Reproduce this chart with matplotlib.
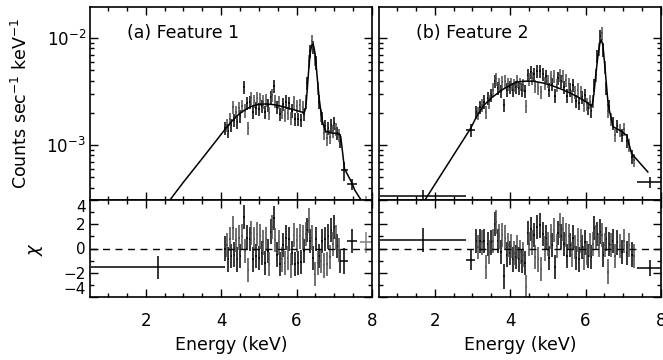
import matplotlib
matplotlib.use("Agg")
import matplotlib.pyplot as plt
from matplotlib.ticker import MultipleLocator, LogLocator, NullFormatter
import numpy as np

plt.rcParams['font.family'] = ['DejaVu Sans']
plt.rcParams['font.size'] = 12

# ---- panel (a) Feature 1 : counts in 1e-3 counts/s/keV ----
energy_a = [4.10, 4.15, 4.19, 4.23, 4.27, 4.31, 4.35, 4.39, 4.43, 4.47,
            4.51, 4.55, 4.60, 4.64, 4.68, 4.72, 4.76, 4.80, 4.84, 4.88,
            4.92, 4.96, 5.00, 5.04, 5.08, 5.12, 5.16, 5.20, 5.24, 5.28,
            5.32, 5.36, 5.40, 5.44, 5.48, 5.52, 5.56, 5.60, 5.64, 5.68,
            5.72, 5.76, 5.80, 5.84, 5.88, 5.92, 5.96, 6.00, 6.04, 6.08,
            6.12, 6.16, 6.20, 6.24, 6.28, 6.32, 6.36, 6.40, 6.44, 6.48,
            6.52, 6.56, 6.60, 6.64, 6.68, 6.72, 6.76, 6.80, 6.84, 6.88,
            6.92, 6.96, 7.00, 7.04, 7.08, 7.12, 7.16]
counts_a = [1.45, 1.55, 1.35, 1.75, 1.55, 2.25, 1.70, 2.05, 1.65, 2.20,
            1.85, 2.30, 3.45, 2.10, 2.45, 1.45, 2.50, 2.75, 2.05, 2.60,
            2.20, 2.75, 2.15, 2.70, 2.30, 2.55, 2.05, 2.65, 2.35, 2.00,
            2.80, 2.95, 3.55, 2.60, 2.25, 2.50, 1.95, 2.05, 2.40, 1.90,
            2.55, 2.00, 2.45, 1.80, 2.10, 2.50, 1.75, 2.30, 1.75, 2.35,
            1.70, 2.25, 1.95, 2.55, 3.80, 6.10, 7.60, 9.30, 8.20, 6.40,
            5.90, 3.40, 2.55, 1.90, 1.80, 1.30, 1.50, 1.15, 1.45, 1.20,
            1.55, 1.35, 1.60, 1.40, 1.30, 1.25, 1.10]
resid_a = [0.0, 0.3, -0.9, 0.8, -0.6, 1.7, -0.5, 0.7, -0.9, 0.9,
           -0.6, 1.0, 2.6, -0.2, 0.9, -1.8, 0.8, 1.3, -0.9, 0.8,
           -0.6, 1.2, -0.8, 1.0, -0.4, 0.5, -1.2, 0.8, -0.2, -1.3,
           1.4, 1.8, 2.5, 0.7, -0.5, 0.5, -1.3, -0.9, 0.3, -1.2,
           0.9, -0.8, 0.8, -1.4, -0.4, 1.1, -1.3, 0.7, -1.2, 1.0,
           -1.1, 0.9, -0.2, 1.2, 1.5, 2.3, 0.6, 0.9, -0.8, -2.1,
           0.8, -1.2, -0.6, -1.0, 0.6, -1.4, 0.8, -1.3, 1.0, -0.7,
           1.5, 0.4, 1.8, 0.9, 0.2, -0.1, -1.0]
wide_x_a = [2.32, 7.27, 7.47, 7.84]
wide_xerr_a = [1.78, 0.09, 0.12, 0.17]
wide_counts_a = [0.12, 0.58, 0.43, 0.29]
wide_cerr_a = [0.03, 0.12, 0.05, 0.04]
wide_resid_a = [-1.56, -1.04, 0.64, 0.50]
wide_rerr_a = [0.95, 1.05, 1.0, 0.9]
model_x_a = [2.3, 2.64, 3.0, 3.5, 4.0, 4.2, 4.4, 4.6, 4.8, 5.0, 5.2, 5.4, 5.6,
             5.8, 6.0, 6.2, 6.24, 6.28, 6.32, 6.36, 6.40, 6.44, 6.48, 6.52,
             6.56, 6.60, 6.64, 6.68, 6.72, 6.77, 6.9, 7.13, 7.17, 7.27, 7.47,
             7.54, 7.71, 7.9]
model_y_a = [0.215, 0.306, 0.45, 0.75, 1.26, 1.55, 1.85, 2.1, 2.3, 2.4, 2.42,
             2.38, 2.3, 2.2, 2.1, 2.0, 2.2, 3.2, 5.0, 7.2, 8.6, 8.8, 7.5, 5.5,
             3.8, 2.7, 2.1, 1.7, 1.5, 1.35, 1.3, 1.27, 1.2, 0.6, 0.44, 0.38,
             0.306, 0.26]

# ---- panel (b) Feature 2 ----
energy_b = [3.10, 3.15, 3.20, 3.25, 3.30, 3.35, 3.40, 3.45, 3.50, 3.55,
            3.59, 3.63, 3.67, 3.71, 3.75, 3.79, 3.83, 3.87, 3.91, 3.95,
            3.99, 4.03, 4.07, 4.11, 4.15, 4.19, 4.23, 4.27, 4.31, 4.35,
            4.39, 4.43, 4.47, 4.51, 4.55, 4.59, 4.63, 4.67, 4.71, 4.75,
            4.79, 4.83, 4.87, 4.91, 4.95, 4.99, 5.03, 5.07, 5.11, 5.15,
            5.19, 5.23, 5.27, 5.31, 5.35, 5.39, 5.43, 5.47, 5.51, 5.55,
            5.59, 5.63, 5.67, 5.71, 5.75, 5.79, 5.83, 5.87, 5.91, 5.95,
            5.99, 6.03, 6.07, 6.11, 6.15, 6.19, 6.23, 6.27, 6.31, 6.35,
            6.39, 6.43, 6.47, 6.51, 6.55, 6.59, 6.63, 6.67, 6.72, 6.78,
            6.84, 6.90, 6.96, 7.02, 7.09, 7.16, 7.23, 7.29]
counts_b = [2.05, 2.00, 2.25, 2.35, 2.55, 2.05, 2.75, 2.55, 2.95, 3.30,
            4.00, 4.10, 3.40, 3.75, 3.20, 3.90, 2.35, 3.95, 3.30, 3.70,
            3.45, 3.75, 3.30, 3.60, 3.45, 3.95, 3.40, 3.75, 3.30, 3.60,
            3.20, 2.30, 4.55, 4.10, 4.85, 4.20, 4.60, 3.55, 4.90, 3.40,
            4.95, 3.10, 4.60, 3.80, 4.40, 3.95, 3.30, 4.30, 3.75, 4.45,
            2.90, 3.60, 4.20, 4.55, 3.95, 4.40, 3.50, 4.05, 2.90, 3.75,
            3.30, 2.85, 3.60, 3.10, 2.60, 3.30, 2.45, 3.15, 2.80, 2.35,
            2.95, 2.40, 2.20, 2.55, 2.10, 2.60, 3.60, 4.50, 6.80, 7.90,
            10.5, 11.2, 7.80, 5.40, 3.40, 2.10, 2.30, 1.75, 1.60, 1.25,
            1.50, 1.38, 1.25, 1.40, 1.10, 1.00, 0.78, 0.72]
resid_b = [0.6, 0.1, 0.6, 0.5, 0.6, -1.5, 0.4, -0.3, 0.5, 0.6,
           2.0, 2.2, 0.6, 1.0, -0.3, 1.1, -2.3, 0.9, -0.5, 0.3,
           -0.4, 0.2, -0.9, -0.4, -0.7, 0.1, -0.9, -0.3, -1.0, -0.5,
           -1.2, -3.2, 1.3, 0.4, 1.6, 0.5, 1.1, -0.7, 1.8, -0.9,
           1.9, -1.7, 1.2, 0.0, 0.9, 0.4, -0.8, 1.0, 0.3, 1.5,
           -1.5, 0.2, 1.3, 1.9, 1.0, 1.6, 0.4, 1.1, -0.6, 1.0,
           0.3, -0.5, 0.9, 0.1, -0.8, 0.7, -0.9, 0.6, 0.1, -0.8,
           0.5, -0.4, -0.6, 0.3, -0.7, 0.4, 1.7, 0.9, 1.2, 0.3,
           1.4, 1.1, -0.5, 0.3, 0.8, -1.9, 0.4, 0.3, 0.6, -0.6,
           0.5, 0.2, -0.3, 0.6, -0.4, 0.3, -0.5, -0.6]
wide_x_b = [1.68, 2.95, 7.70]
wide_xerr_b = [1.14, 0.11, 0.33]
wide_counts_b = [0.33, 1.38, 0.45]
wide_cerr_b = [0.05, 0.18, 0.05]
wide_resid_b = [0.71, -0.98, -1.60]
wide_rerr_b = [0.98, 0.82, 0.65]
model_x_b = [1.5, 1.74, 2.0, 2.5, 2.95, 3.11, 3.3, 3.5, 3.64, 3.8, 4.0, 4.17,
             4.4, 4.6, 4.87, 5.1, 5.41, 5.6, 5.8, 6.0, 6.17, 6.22, 6.27, 6.32,
             6.38, 6.42, 6.46, 6.52, 6.6, 6.73, 6.91, 7.09, 7.22, 7.65]
model_y_b = [0.225, 0.306, 0.427, 0.807, 1.43, 1.85, 2.35, 2.75, 3.0, 3.3,
             3.62, 3.88, 3.95, 3.95, 3.8, 3.6, 3.27, 3.05, 2.8, 2.55, 2.3,
             3.0, 4.5, 6.5, 9.0, 9.6, 8.5, 5.0, 2.35, 1.48, 1.37, 1.23, 0.83,
             0.56]

frac_err = 0.14      # typical fractional error on the binned counts
bin_half = 0.02      # half width of the fine bins (keV)
scale = 1e-3

fig = plt.figure(figsize=(6.63, 3.6), dpi=100)
W, H = 663.0, 360.0


def px_axes(x0, y0, x1, y1):
    return fig.add_axes([x0 / W, 1 - y1 / H, (x1 - x0) / W, (y1 - y0) / H])


def style(ax):
    ax.tick_params(which='both', direction='in', top=True, right=True,
                   width=1.0, labelsize=12)
    ax.tick_params(which='major', length=6)
    ax.tick_params(which='minor', length=3)
    for s in ax.spines.values():
        s.set_linewidth(1.2)


panels = [
    (90, energy_a, counts_a, resid_a, wide_x_a, wide_xerr_a, wide_counts_a,
     wide_cerr_a, wide_resid_a, wide_rerr_a, model_x_a, model_y_a,
     '(a) Feature 1', ['k', 'k', 'k', '#808080']),
    (379, energy_b, counts_b, resid_b, wide_x_b, wide_xerr_b, wide_counts_b,
     wide_cerr_b, wide_resid_b, wide_rerr_b, model_x_b, model_y_b,
     '(b) Feature 2', ['k', 'k', 'k']),
]

for i, (x0, en, ct, rs, wx, wxe, wc, wce, wr, wre, mx, my, title, wcol) in enumerate(panels):
    top = px_axes(x0, 7, x0 + 282, 200)
    bot = px_axes(x0, 200, x0 + 282, 297)
    en = np.array(en)
    ct = np.array(ct) * scale
    rs = np.array(rs)

    for k, col in enumerate(['k', '#4a4a4a']):
        sl = slice(k, None, 2)
        top.errorbar(en[sl], ct[sl], xerr=bin_half, yerr=frac_err * ct[sl],
                     fmt='none', ecolor=col, elinewidth=1.1, capsize=0)
        bot.errorbar(en[sl], rs[sl], xerr=bin_half, yerr=1.0,
                     fmt='none', ecolor=col, elinewidth=1.1, capsize=0)
    for j in range(len(wx)):
        top.errorbar(wx[j], wc[j] * scale, xerr=wxe[j], yerr=wce[j] * scale,
                     fmt='none', ecolor=wcol[j], elinewidth=1.1, capsize=0)
        bot.errorbar(wx[j], wr[j], xerr=wxe[j], yerr=wre[j],
                     fmt='none', ecolor=wcol[j], elinewidth=1.1, capsize=0)
    top.plot(mx, np.array(my) * scale, color='k', lw=1.1)
    bot.axhline(0, color='k', lw=1.0, ls=(0, (5, 4)))

    for ax in (top, bot):
        ax.set_xlim(0.52, 8.0)
        ax.xaxis.set_major_locator(MultipleLocator(2))
        ax.xaxis.set_minor_locator(MultipleLocator(0.5))
        style(ax)

    top.set_yscale('log')
    top.set_ylim(3.06e-4, 1.95e-2)
    top.yaxis.set_minor_locator(LogLocator(base=10, subs=np.arange(2, 10)))
    top.yaxis.set_minor_formatter(NullFormatter())
    top.tick_params(axis='x', labelbottom=False)
    top.tick_params(axis='y', pad=3)
    top.text(0.13, 0.865, title, transform=top.transAxes, fontsize=12.5,
             ha='left', va='center')

    bot.set_ylim(-4, 4)
    bot.set_yticks([-4, -2, 0, 2, 4])
    bot.yaxis.set_minor_locator(MultipleLocator(1))
    bot.tick_params(axis='x', pad=11)
    bot.tick_params(axis='y', pad=3, labelsize=11)
    bot.set_xlabel('Energy (keV)', fontsize=12.5, labelpad=4)

    if i == 0:
        top.set_ylabel(r'Counts sec$^{-1}$ keV$^{-1}$', fontsize=12.5,
                       labelpad=11)
        bot.set_ylabel(r'$\chi$', fontsize=13, labelpad=13)
        labels = bot.get_yticklabels()
        labels[0].set_va('bottom')
        labels[-1].set_va('top')
    else:
        top.tick_params(axis='y', labelleft=False)
        bot.tick_params(axis='y', labelleft=False)

fig.savefig('out.png', dpi=100)
